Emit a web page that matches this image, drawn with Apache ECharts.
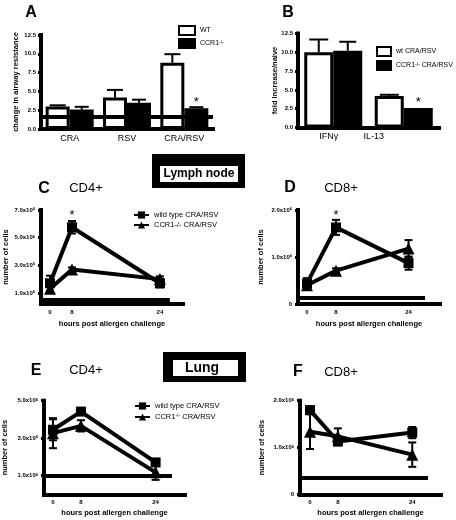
<!DOCTYPE html>
<html><head><meta charset="utf-8">
<script src="https://cdn.jsdelivr.net/npm/echarts@6/dist/echarts.min.js"></script>
<style>html,body{margin:0;padding:0;background:#fff}#c{width:456px;height:520px}</style>
</head><body><div id="c"></div>
<script>
// ---------- DATA ----------
// Panel A: change in airway resistance
const aCategories = ['CRA', 'RSV', 'CRA/RSV'];
const aWT = [3.0, 4.2, 8.8];
const aWTErr = [0.15, 1.0, 1.15];
const aKO = [2.6, 3.5, 2.75];
const aKOErr = [0.35, 0.4, 0.15];
const aKOSig = [false, false, true];
// Panel B: fold increase / naive
const bCategories = ['IFNγ', 'IL-13'];
const bWT = [10.0, 4.2];
const bWTErr = [1.7, 0.15];
const bKO = [10.2, 2.6];
const bKOErr = [1.2, 0.0];
const bKOSig = [false, true];
// Time courses (hours post allergen challenge), values in 10^6 cells
const hours = [0, 8, 24];
const cWT = [1.7, 5.75, 1.7];   const cWTErr = [0.55, 0.45, 0.3];
const cKO = [1.3, 2.7, 2.0];    const cKOErr = [0.25, 0.15, 0.2];
const cWTSig = [false, true, false];
const dWT = [0.44, 1.63, 0.87]; const dWTErr = [0.11, 0.16, 0.14];
const dKO = [0.40, 0.71, 1.18]; const dKOErr = [0.08, 0.05, 0.18];
const dWTSig = [false, true, false];
const eWT = [3.45, 4.42, 1.71]; const eWTErr = [0.56, 0.08, 0.15];
const eKO = [3.27, 3.66, 1.18]; const eKOErr = [0.8, 0.3, 0.4];
const fWT = [1.80, 1.13, 1.32]; const fWTErr = [0.05, 0.08, 0.12];
const fKO = [1.34, 1.24, 0.85]; const fKOErr = [0.37, 0.17, 0.26];
// horizontal reference lines (A, C, D, E, F)
const refLevels = [1.65, 0.49, 0.13, 1.0, 0.35];
// tick values
const abTicks = [0, 2.5, 5, 7.5, 10, 12.5];
const cTicks = [1, 3, 5, 7];
const dTicks = [0, 1, 2];
const eTicks = [1, 3, 5];
const fTicks = [0, 1, 2];

// ---------- LAYOUT ----------
const FONT = 'Liberation Sans, Arial, sans-serif';
// horizontal placement of the hour ticks on each time axis (axis units)
const cSlot = [0, 1, 5], dSlot = [0, 2, 7], efSlot = [0, 3, 11];
const slotMap = (slots) => (v) => { const i = slots.indexOf(v); return i < 0 ? '' : String(hours[i]); };

const supRich = {
  s: { fontSize: 5, fontFamily: FONT, color: '#000', verticalAlign: 'top', lineHeight: 6 }
};
const tickRich = {
  m: { fontSize: 6, fontWeight: 'bold', fontFamily: FONT, color: '#000' },
  s: { fontSize: 4, fontWeight: 'bold', fontFamily: FONT, color: '#000', verticalAlign: 'top' }
};
const sciFmt = (v) => v === 0 ? '{m|0}' : '{m|' + v.toFixed(1) + 'x10}{s|6}';

const lineAxis = { show: true, onZero: false, lineStyle: { color: '#000', width: 4, cap: 'square' } };
const nameStyle = { fontSize: 7.5, fontWeight: 'bold', fontFamily: FONT, color: '#000' };

function yAxisOf(gi, min, max, ticks, fmt, name, gap, margin) {
  return {
    type: 'value', gridIndex: gi, min, max,
    name, nameLocation: 'middle', nameRotate: 90, nameGap: gap, nameTextStyle: nameStyle, nameMoveOverlap: false,
    axisLine: lineAxis,
    axisTick: { show: true, customValues: ticks, length: 3, lineStyle: { color: '#000', width: 3 } },
    axisLabel: { customValues: ticks, formatter: fmt, margin, rich: tickRich, fontSize: 6, fontWeight: 'bold', fontFamily: FONT, color: '#000' },
    splitLine: { show: false }
  };
}
function timeXAxis(gi, min, max, slots, gap) {
  return {
    type: 'value', gridIndex: gi, min, max,
    name: 'hours post allergen challenge', nameLocation: 'middle', nameGap: gap, nameTextStyle: nameStyle, nameMoveOverlap: false,
    axisLine: lineAxis, axisTick: { show: false },
    axisLabel: { customValues: slots, formatter: slotMap(slots), margin: 5, fontSize: 6, fontWeight: 'bold', fontFamily: FONT, color: '#000' },
    splitLine: { show: false }
  };
}
function catXAxis(gi, cats, rich, fmt) {
  return {
    type: 'category', gridIndex: gi, data: cats,
    axisLine: lineAxis, axisTick: { show: false },
    axisLabel: { fontSize: 9, fontFamily: FONT, color: '#000', margin: 5, rich, formatter: fmt },
    splitLine: { show: false }
  };
}
function barSeries(name, gi, vals, white, width, sig) {
  return {
    type: 'bar', name, xAxisIndex: gi, yAxisIndex: gi, barWidth: width, barGap: '0%',
    itemStyle: { color: white ? '#fff' : '#000', borderColor: '#000', borderWidth: 3 },
    data: vals.map((v, i) => sig && sig[i]
      ? { value: v, label: { show: true, position: 'top', distance: -1, formatter: '*', fontSize: 13, fontFamily: FONT, color: '#000' } }
      : v),
    z: 2
  };
}
function barErr(gi, vals, errs, offset, cap) {
  return {
    type: 'custom', xAxisIndex: gi, yAxisIndex: gi, silent: true, z: 3,
    data: vals.map((v, i) => [i, v, v + errs[i]]),
    renderItem: (p, api) => {
      const a = api.coord([api.value(0), api.value(1)]);
      const b = api.coord([api.value(0), api.value(2)]);
      if (api.value(2) - api.value(1) <= 0) return null;
      const x = a[0] + offset, st = { stroke: '#000', lineWidth: 2 };
      return { type: 'group', children: [
        { type: 'line', shape: { x1: x, y1: a[1], x2: x, y2: b[1] }, style: st },
        { type: 'line', shape: { x1: x - cap / 2, y1: b[1], x2: x + cap / 2, y2: b[1] }, style: st }
      ] };
    }
  };
}
function lineSeries(name, gi, slots, vals, symbol, sig) {
  return {
    type: 'line', name, xAxisIndex: gi, yAxisIndex: gi,
    data: vals.map((v, i) => {
      const d = { value: [slots[i], v] };
      if (sig && sig[i]) d.label = { show: true, position: 'top', distance: 0, formatter: '*', fontSize: 13, fontFamily: FONT, color: '#000' };
      return d;
    }),
    symbol, symbolSize: symbol === 'rect' ? 10 : 12,
    lineStyle: { color: '#000', width: 4 }, itemStyle: { color: '#000' }, z: 4
  };
}
function lineErr(gi, slots, vals, errs, cap) {
  return {
    type: 'custom', xAxisIndex: gi, yAxisIndex: gi, silent: true, z: 3,
    data: vals.map((v, i) => [slots[i], v - errs[i], v + errs[i]]),
    renderItem: (p, api) => {
      const a = api.coord([api.value(0), api.value(1)]);
      const b = api.coord([api.value(0), api.value(2)]);
      const x = a[0], h = cap / 2, st = { stroke: '#000', lineWidth: 2 };
      return { type: 'group', children: [
        { type: 'line', shape: { x1: x, y1: a[1], x2: x, y2: b[1] }, style: st },
        { type: 'line', shape: { x1: x - h, y1: a[1], x2: x + h, y2: a[1] }, style: st },
        { type: 'line', shape: { x1: x - h, y1: b[1], x2: x + h, y2: b[1] }, style: st }
      ] };
    }
  };
}
function refLine(gi, x0, x1, level) {
  return {
    type: 'line', xAxisIndex: gi, yAxisIndex: gi, data: [], silent: true, z: 5,
    markLine: { silent: true, symbol: 'none', animation: false, label: { show: false },
      lineStyle: { color: '#000', width: 4, type: 'solid' },
      data: x0 === null ? [{ yAxis: level }] : [[{ coord: [x0, level] }, { coord: [x1, level] }]] }
  };
}

const supFmt = (n) => n.replace('-/-', '{s|-/-}');
const bLegendText = { 'wt CRA/RSV': 'wt CRA/RSV', 'CCR1 B': 'CCR1{s|-/-} CRA/RSV' };

function txt(text, x, y, font) {
  return { type: 'text', x, y, z: 10, style: { text, font, fill: '#000', textAlign: 'center', textVerticalAlign: 'middle', align: 'center', verticalAlign: 'middle' } };
}

const option = {
  animation: false,
  textStyle: { fontFamily: FONT, color: '#000' },
  grid: [
    { left: 41, top: 35, width: 172, height: 94 },
    { left: 298, top: 33.5, width: 141, height: 94 },
    { left: 41, top: 210, width: 142, height: 94 },
    { left: 298, top: 210, width: 142, height: 94 },
    { left: 44, top: 400.7, width: 141, height: 93.8 },
    { left: 300, top: 400.7, width: 141, height: 93.8 }
  ],
  xAxis: [
    catXAxis(0, aCategories),
    catXAxis(1, bCategories, { sh: { fontSize: 9, fontFamily: FONT, color: '#000', padding: [0, 60, 0, 0] }, g: { fontSize: 9, fontFamily: FONT, color: '#000', padding: [0, 9, 0, 0] } },
      (v) => v === 'IL-13' ? '{sh|IL-13}' : '{g|' + v + '}'),
    timeXAxis(2, -0.41, 6.05, cSlot, 16),
    timeXAxis(3, -0.62, 9.17, dSlot, 16),
    timeXAxis(4, -0.96, 14.15, efSlot, 14),
    timeXAxis(5, -1.075, 14.09, efSlot, 14)
  ],
  yAxis: [
    yAxisOf(0, 0, 12.5, abTicks, (v) => v.toFixed(1), 'change in airway resistance', 21, 5),
    yAxisOf(1, 0, 12.5, abTicks, (v) => v.toFixed(1), 'fold increase/naive', 19, 5),
    yAxisOf(2, 0.2, 7.0, cTicks, sciFmt, 'number of cells', 31, 6),
    yAxisOf(3, 0, 2.0, dTicks, sciFmt, 'number of cells', 33, 6),
    yAxisOf(4, 0, 5.0, eTicks, sciFmt, 'number of cells', 35, 6),
    yAxisOf(5, 0, 2.0, fTicks, sciFmt, 'number of cells', 34, 6)
  ],
  legend: [
    { data: ['WT', 'CCR1-/-'], icon: 'rect', left: 178, top: 25, orient: 'vertical', itemWidth: 16, itemHeight: 9, itemGap: 2, padding: 0, selectedMode: false,
      textStyle: { fontSize: 7, fontFamily: FONT, color: '#000', rich: supRich }, formatter: supFmt },
    { data: ['wt CRA/RSV', 'CCR1 B'], icon: 'rect', left: 376, top: 46, orient: 'vertical', itemWidth: 14, itemHeight: 9, itemGap: 3, padding: 0, selectedMode: false,
      textStyle: { fontSize: 7, fontFamily: FONT, color: '#000', rich: supRich }, formatter: (n) => bLegendText[n] },
    { data: ['wild type CRA/RSV', 'CCR1-/- CRA/RSV'], left: 133, top: 211, orient: 'vertical', itemWidth: 15, itemHeight: 9, itemGap: 2, padding: 0, selectedMode: false,
      textStyle: { fontSize: 7.5, fontFamily: FONT, color: '#000' } },
    { data: ['wild type CRA/RSV', 'CCR1-/- CRA/RSV'], left: 134, top: 402, orient: 'vertical', itemWidth: 15, itemHeight: 9, itemGap: 3, padding: 0, selectedMode: false,
      textStyle: { fontSize: 7.5, fontFamily: FONT, color: '#000', rich: supRich }, formatter: supFmt }
  ],
  series: [
    barSeries('WT', 0, aWT, true, 24),
    barSeries('CCR1-/-', 0, aKO, false, 24, aKOSig),
    barErr(0, aWT, aWTErr, -12, 16),
    barErr(0, aKO, aKOErr, 12, 14),
    refLine(0, null, null, refLevels[0]),

    barSeries('wt CRA/RSV', 1, bWT, true, 29),
    barSeries('CCR1 B', 1, bKO, false, 29, bKOSig),
    barErr(1, bWT, bWTErr, -14.5, 19),
    barErr(1, bKO, bKOErr, 14.5, 17),

    lineErr(2, cSlot, cWT, cWTErr, 8),
    lineErr(2, cSlot, cKO, cKOErr, 8),
    lineSeries('wild type CRA/RSV', 2, cSlot, cWT, 'rect', cWTSig),
    lineSeries('CCR1-/- CRA/RSV', 2, cSlot, cKO, 'triangle'),
    refLine(2, -0.41, 5.45, refLevels[1]),

    lineErr(3, dSlot, dWT, dWTErr, 8),
    lineErr(3, dSlot, dKO, dKOErr, 8),
    lineSeries('wild type CRA/RSV', 3, dSlot, dWT, 'rect', dWTSig),
    lineSeries('CCR1-/- CRA/RSV', 3, dSlot, dKO, 'triangle'),
    refLine(3, -0.62, 8.14, refLevels[2]),

    lineErr(4, efSlot, eWT, eWTErr, 8),
    lineErr(4, efSlot, eKO, eKOErr, 8),
    lineSeries('wild type CRA/RSV', 4, efSlot, eWT, 'rect'),
    lineSeries('CCR1-/- CRA/RSV', 4, efSlot, eKO, 'triangle'),
    refLine(4, -0.96, 12.75, refLevels[3]),

    lineErr(5, efSlot, fWT, fWTErr, 8),
    lineErr(5, efSlot, fKO, fKOErr, 8),
    lineSeries('wild type CRA/RSV', 5, efSlot, fWT, 'rect'),
    lineSeries('CCR1-/- CRA/RSV', 5, efSlot, fKO, 'triangle'),
    refLine(5, -1.075, 12.69, refLevels[4])
  ],
  graphic: [
    txt('A', 31, 12.5, 'bold 16px ' + FONT),
    txt('B', 288, 12.5, 'bold 16px ' + FONT),
    txt('C', 44, 188.5, 'bold 16px ' + FONT),
    txt('CD4+', 86, 188, '13px ' + FONT),
    txt('D', 290, 188, 'bold 16px ' + FONT),
    txt('CD8+', 341, 188, '13px ' + FONT),
    txt('E', 36, 370.5, 'bold 16px ' + FONT),
    txt('CD4+', 86, 370, '13px ' + FONT),
    txt('F', 298, 372, 'bold 16px ' + FONT),
    txt('CD8+', 341, 372, '13px ' + FONT),
    { type: 'rect', z: 9, shape: { x: 152, y: 154, width: 93, height: 34 }, style: { fill: '#000' } },
    { type: 'rect', z: 9, shape: { x: 160, y: 166, width: 78, height: 16 }, style: { fill: '#fff' } },
    txt('Lymph node', 199, 174, 'bold 12px ' + FONT),
    { type: 'rect', z: 9, shape: { x: 163, y: 352, width: 83, height: 30 }, style: { fill: '#000' } },
    { type: 'rect', z: 9, shape: { x: 173, y: 360, width: 65, height: 16 }, style: { fill: '#fff' } },
    txt('Lung', 202, 368.5, 'bold 14px ' + FONT)
  ]
};
const chart = echarts.init(document.getElementById('c'), null, { renderer: 'canvas' });
chart.setOption(option);
</script>
</body></html>
